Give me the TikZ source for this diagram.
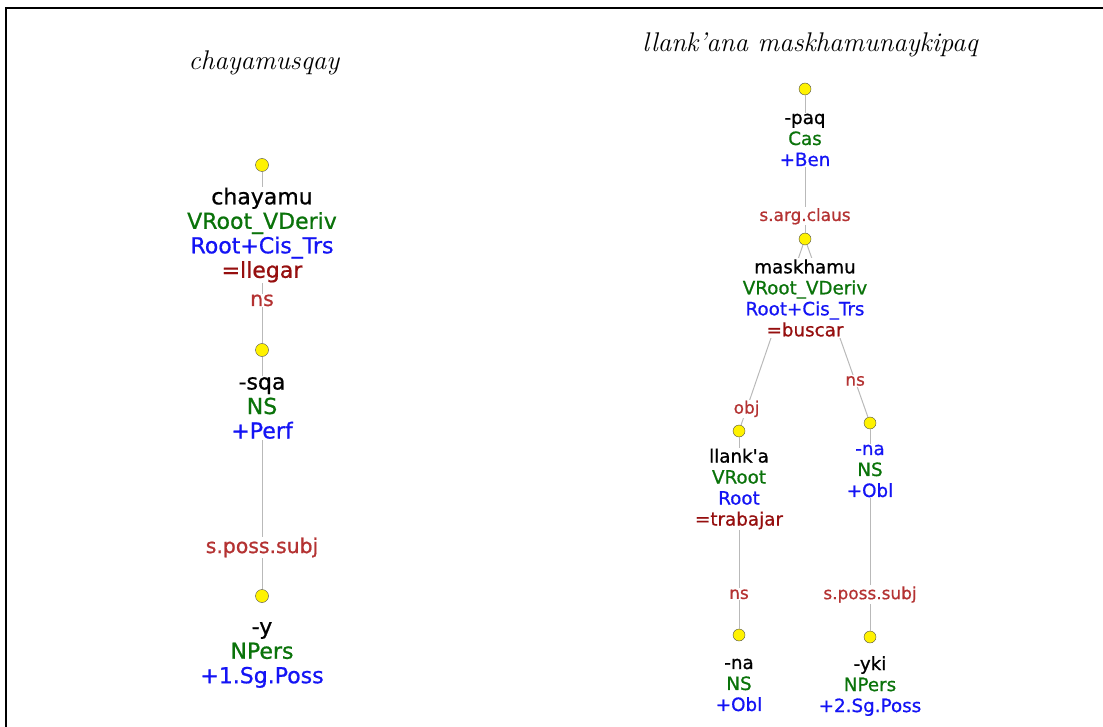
\documentclass[tikz,border=0pt]{standalone}
\usepackage{fontspec}
\newfontfamily\dejavu[FakeBold=0.8]{DejaVu Sans}
\usetikzlibrary{positioning}
\definecolor{featgreen}{RGB}{10,115,10}
\definecolor{featblue}{RGB}{20,20,245}
\definecolor{glossred}{RGB}{150,15,15}
\definecolor{relred}{RGB}{180,50,50}
\definecolor{edgegray}{RGB}{185,185,185}
\newcommand{\gr}[1]{\textcolor{featgreen}{#1}}
\newcommand{\bl}[1]{\textcolor{featblue}{#1}}
\newcommand{\gl}[1]{\textcolor{glossred}{#1}}

\begin{document}
\begin{tikzpicture}[x=1pt,y=-1pt]
		\tikzstyle{every node}+=[inner sep=1pt]
		\tikzstyle{dot}=[circle,draw=black!70,fill=yellow,minimum size=13pt,inner sep=0pt]
		\tikzstyle{edge}=[draw=edgegray,line width=1pt]
		\tikzstyle{bigmorph}=[fill=white,align=center,font=\dejavu\fontsize{22}{24.5}\selectfont]
		\tikzstyle{morph}=[fill=white,align=center,font=\dejavu\fontsize{18.3}{21}\selectfont]
		\tikzstyle{bigrel}=[fill=white,text=relred,font=\dejavu\fontsize{20.4}{24}\selectfont]
		\tikzstyle{rel}=[fill=white,text=relred,font=\dejavu\fontsize{16.9}{20}\selectfont]
		\useasboundingbox (0,0) rectangle (1103,727);
		\draw [black,line width=1.2pt] (1103,8) -- (6,8) -- (6,727);
		% titles
		\node (titleL) at (264,63) {\fontsize{27}{30}\selectfont\itshape chayamusqay};
		\node (titleR) at (810,45) {\fontsize{27}{30}\selectfont\itshape llank'ana maskhamunaykipaq};
		% chayamusqay
		\node [dot] (ld1) at (262,165) {};
		\node [dot] (ld2) at (262,350) {};
		\node [dot] (ld3) at (262,596) {};
		\draw [edge] (ld1) -- node [bigrel,pos=0.75] {ns} (ld2);
		\draw [edge] (ld2) -- node [bigrel,pos=0.82] {s.poss.subj} (ld3);
		\node [bigmorph] (chayamu) at (262,235) {chayamu\\\gr{VRoot\_VDeriv}\\\bl{Root+Cis\_Trs}\\\gl{=llegar}};
		\node [bigmorph] (sqa) at (262,408) {-sqa\\\gr{NS}\\\bl{+Perf}};
		\node [bigmorph] (y) at (262,655) {-y\\\gr{NPers}\\\bl{+1.Sg.Poss}};
		% llank'ana maskhamunaykipaq
		\node [dot,minimum size=12pt] (rd1) at (805,89) {};
		\node [dot,minimum size=12pt] (rd2) at (805,239) {};
		\node [dot,minimum size=12pt] (rd3) at (739,431) {};
		\node [dot,minimum size=12pt] (rd4) at (870,423) {};
		\node [dot,minimum size=12pt] (rd5) at (739,635) {};
		\node [dot,minimum size=12pt] (rd6) at (870,637) {};
		\draw [edge] (rd1) -- node [rel,pos=0.88] {s.arg.claus} (rd2);
		\draw [edge] (rd2) -- node [rel,pos=0.91] {obj} (rd3);
		\draw [edge] (rd2) -- node [rel,pos=0.79] {ns} (rd4);
		\draw [edge] (rd3) -- node [rel,pos=0.82] {ns} (rd5);
		\draw [edge] (rd4) -- node [rel,pos=0.82] {s.poss.subj} (rd6);
		\node [morph] (paq) at (805,140) {-paq\\\gr{Cas}\\\bl{+Ben}};
		\node [morph] (maskhamu) at (805,298) {maskhamu\\\gr{VRoot\_VDeriv}\\\bl{Root+Cis\_Trs}\\\gl{=buscar}};
		\node [morph] (llanka) at (739,489) {llank'a\\\gr{VRoot}\\\bl{Root}\\\gl{=trabajar}};
		\node [morph] (naobl) at (870,471) {\bl{-na}\\\gr{NS}\\\bl{+Obl}};
		\node [morph] (na) at (739,685) {-na\\\gr{NS}\\\bl{+Obl}};
		\node [morph] (yki) at (870,686) {-yki\\\gr{NPers}\\\bl{+2.Sg.Poss}};
\end{tikzpicture}
\end{document}
